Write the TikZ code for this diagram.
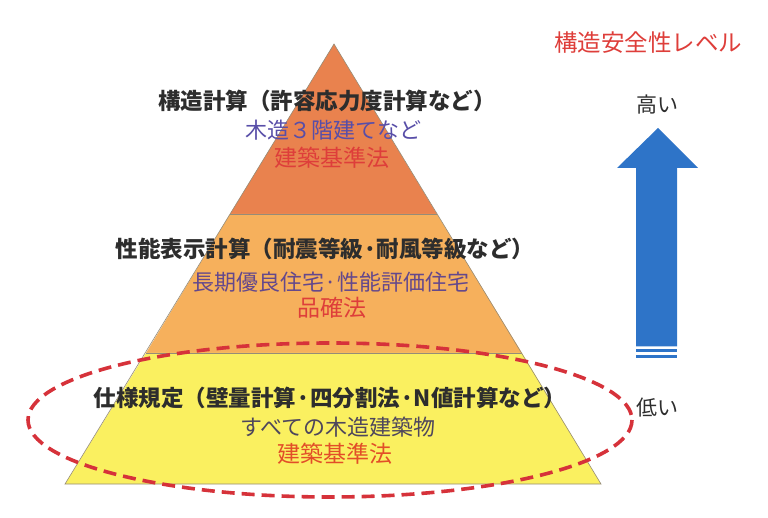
\documentclass[tikz,border=0pt]{standalone}
\usepackage{fontspec}
\setmainfont{Noto Sans CJK JP}
\definecolor{bandA}{RGB}{233,130,78}
\definecolor{bandB}{RGB}{246,176,92}
\definecolor{bandC}{RGB}{250,240,96}
\definecolor{edgegray}{RGB}{150,140,120}
\definecolor{darktxt}{RGB}{45,45,45}
\definecolor{violettxt}{RGB}{88,78,168}
\definecolor{purpletxt}{RGB}{100,72,140}
\definecolor{graytxt}{RGB}{78,70,92}
\definecolor{redtxt}{RGB}{222,62,58}
\definecolor{orangered}{RGB}{226,78,40}
\definecolor{dashred}{RGB}{214,50,58}
\definecolor{arrowblue}{RGB}{46,116,200}
\tikzset{
  band/.style={draw=edgegray, line width=0.6pt},
  headtxt/.style={inner sep=0pt, font=\fontsize{22.5}{26}\selectfont\bfseries, text=darktxt},
  subtxt/.style={inner sep=0pt, font=\fontsize{22}{25}\selectfont},
  lawtxt/.style={inner sep=0pt, font=\fontsize{23}{26}\selectfont, text=redtxt},
  sidetxt/.style={inner sep=0pt, font=\fontsize{21}{24}\selectfont, text=darktxt},
  focus/.style={draw=dashred, line width=3.6pt, dash pattern=on 13pt off 7pt},
}
\begin{document}
\begin{tikzpicture}[x=1pt,y=-1pt]
\useasboundingbox (0,0) rectangle (768,518);
% pyramid bands
\fill[bandA] (334,44) -- (437,214) -- (230,214) -- cycle;
\fill[bandB] (230,214) -- (437,214) -- (522,353) -- (146,353) -- cycle;
\fill[bandC] (146,353) -- (522,353) -- (601,484) -- (65,484) -- cycle;
\draw[band] (334,44) -- (601,484) -- (65,484) -- cycle;
\draw[band] (230,214) -- (437,214);
\draw[band] (146,353) -- (522,353);
% dashed ellipse
\draw[focus] (330,420) ellipse [x radius=302, y radius=77];
% band texts
\node[headtxt] (t1) at (327,101) {構造計算（許容応力度計算など）};
\node[subtxt, text=violettxt] (t2) at (333,130) {木造３階建てなど};
\node[lawtxt] (t3) at (332,158) {建築基準法};
\node[headtxt] (m1) at (325,249) {性能表示計算（耐震等級·耐風等級など）};
\node[subtxt, text=purpletxt] (m2) at (331,282) {長期優良住宅·性能評価住宅};
\node[lawtxt] (m3) at (332,308) {品確法};
\node[headtxt] (b1) at (330,398) {仕様規定（壁量計算·四分割法·N値計算など）};
\node[subtxt, text=graytxt] (b2) at (338,427) {すべての木造建築物};
\node[lawtxt, text=orangered] (b3) at (335,454) {建築基準法};
% right side
\node[inner sep=0pt, font=\fontsize{23.5}{27}\selectfont, text=redtxt] (title) at (648,43) {構造安全性レベル};
\node[sidetxt] (high) at (657,105) {高い};
\node[sidetxt] (low) at (657,408) {低い};
\fill[arrowblue] (658,128) -- (698,168) -- (677,168) -- (677,346.5) -- (636,346.5) -- (636,168) -- (617,168) -- cycle;
\fill[arrowblue] (636,349.5) rectangle (677,352.5);
\fill[arrowblue] (636,355) rectangle (677,358);
\end{tikzpicture}
\end{document}
